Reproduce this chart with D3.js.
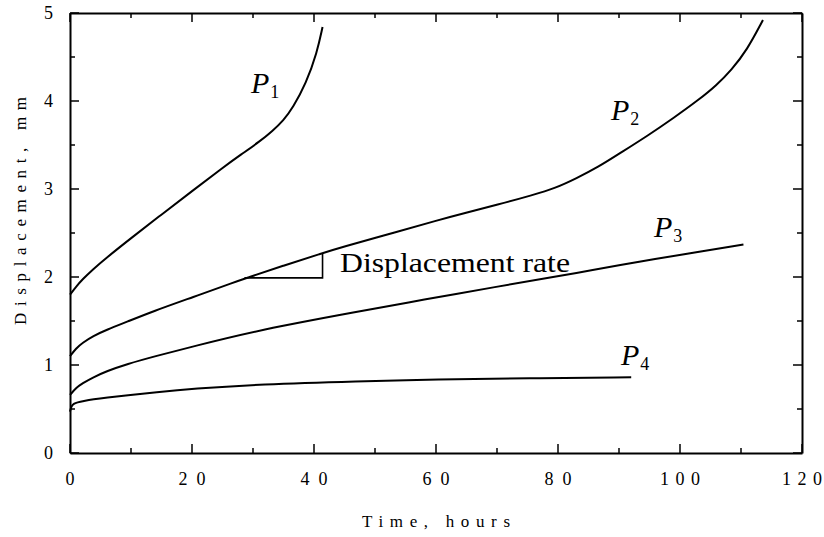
<!DOCTYPE html>
<html><head><meta charset="utf-8">
<script src="https://cdnjs.cloudflare.com/ajax/libs/d3/7.8.5/d3.min.js"></script>
<style>
html,body{margin:0;padding:0;background:#fff;}
svg{display:block;}
svg text{font-family:"Liberation Serif","DejaVu Serif","Times New Roman",Times,serif !important;}
</style></head>
<body>
<script>
// ---- data ----
const p1Time = [0, 1, 2, 3.8, 6, 9.8, 15, 20.1, 25, 28, 31.1, 33.2, 35, 36.5, 38.7, 40.5, 41.4];
const p1Disp = [1.80, 1.89, 1.97, 2.09, 2.22, 2.43, 2.71, 2.98, 3.24, 3.39, 3.54, 3.66, 3.78, 3.92, 4.20, 4.55, 4.84];
const p2Time = [0, 1, 2, 3.8, 6, 9.3, 13.6, 20.1, 27.3, 28.6, 35, 41.4, 44.1, 54, 60, 64.9, 70, 75.8, 79.6, 83, 86.6, 90, 94.8, 99, 103, 106, 108.4, 111, 113.6];
const p2Disp = [1.10, 1.19, 1.25, 1.33, 1.40, 1.49, 1.61, 1.77, 1.95, 1.98, 2.13, 2.27, 2.33, 2.52, 2.64, 2.73, 2.82, 2.93, 3.01, 3.12, 3.25, 3.40, 3.61, 3.81, 4.01, 4.18, 4.35, 4.58, 4.92];
const p3Time = [0, 1, 2, 3.8, 6, 9.3, 14, 20.1, 31.1, 47.4, 57.8, 70, 80, 85.1, 93.7, 100, 110.4];
const p3Disp = [0.66, 0.74, 0.79, 0.86, 0.93, 1.01, 1.10, 1.21, 1.40, 1.61, 1.74, 1.89, 2.01, 2.07, 2.18, 2.25, 2.37];
const p4Time = [0, 0.2, 0.6, 1.2, 2.2, 3.8, 6, 9.3, 14, 20.1, 31.1, 47.4, 60, 75, 92];
const p4Disp = [0.47, 0.53, 0.56, 0.575, 0.59, 0.61, 0.63, 0.655, 0.69, 0.73, 0.78, 0.815, 0.835, 0.85, 0.86];
const seriesNames = ["1", "2", "3", "4"];
const rateTriangle = [[28.6, 1.99], [41.4, 1.99], [41.4, 2.27]];
const xTicks = [0, 20, 40, 60, 80, 100, 120];
const yTicks = [0, 1, 2, 3, 4, 5];
const xTitle = "Time, hours";
const yTitle = "Displacement, mm";
const rateLabel = "Displacement rate";

// ---- layout ----
const FONT = "'Liberation Serif', 'DejaVu Serif', serif";
const W = 824, H = 537;
const svg = d3.select("body").append("svg").attr("width", W).attr("height", H);
const x = d3.scaleLinear().domain([0, 120]).range([70, 802]);
const y = d3.scaleLinear().domain([0, 5]).range([453, 13]);

const line = d3.line().x(d => x(d[0])).y(d => y(d[1])).curve(d3.curveBasis);
const series = [[p1Time, p1Disp], [p2Time, p2Disp], [p3Time, p3Disp], [p4Time, p4Disp]];
series.forEach(([t, v]) => {
  svg.append("path").datum(t.map((ti, i) => [ti, v[i]]))
    .attr("d", line).attr("fill", "none").attr("stroke", "#000").attr("stroke-width", 2)
    .attr("stroke-linejoin", "round");
});

// triangle
svg.append("path").datum(rateTriangle)
  .attr("d", d3.line().x(d => x(d[0])).y(d => y(d[1])))
  .attr("fill", "none").attr("stroke", "#000").attr("stroke-width", 1.6);

// axes (full frame with mirrored ticks)
const minorX = d3.range(0, 121, 10);
const minorY = d3.range(0, 5.01, 0.5);
function frameAxis(axisFn, scale, vals, transform) {
  const g = svg.append("g").attr("transform", transform);
  g.call(axisFn(scale).tickValues(vals).tickSizeInner(0).tickSizeOuter(0).tickFormat(""));
  g.select(".domain").attr("stroke-width", 2);
  g.selectAll(".tick").remove();
  return g;
}
frameAxis(d3.axisBottom, x, minorX, `translate(0,${y(0)})`);
frameAxis(d3.axisTop, x, minorX, `translate(0,${y(5)})`);
frameAxis(d3.axisLeft, y, minorY, `translate(${x(0)},0)`);
frameAxis(d3.axisRight, y, minorY, `translate(${x(120)},0)`);

const tickG = svg.append("g").attr("stroke", "#000").attr("stroke-width", 1.5);
minorX.forEach(v => {
  const len = v % 20 === 0 ? 9 : 5;
  tickG.append("line").attr("x1", x(v)).attr("x2", x(v)).attr("y1", y(0)).attr("y2", y(0) - len);
  tickG.append("line").attr("x1", x(v)).attr("x2", x(v)).attr("y1", y(5)).attr("y2", y(5) + len);
});
minorY.forEach(v => {
  const len = Math.abs(v - Math.round(v)) < 1e-6 ? 9 : 5;
  tickG.append("line").attr("x1", x(0)).attr("x2", x(0) + len).attr("y1", y(v)).attr("y2", y(v));
  tickG.append("line").attr("x1", x(120)).attr("x2", x(120) - len).attr("y1", y(v)).attr("y2", y(v));
});

const textG = svg.append("g").attr("font-family", FONT).attr("fill", "#000");
xTicks.forEach(v => {
  const s = String(v);
  const t = textG.append("text").attr("x", x(v)).attr("y", y(0) + 32).attr("text-anchor", "middle")
    .attr("font-size", 18).text(s);
  if (s.length > 1) t.attr("textLength", s.length === 2 ? 27 : 40).attr("lengthAdjust", "spacing");
});
yTicks.forEach(v => {
  textG.append("text").attr("x", x(0) - 17).attr("y", y(v) + 6).attr("text-anchor", "end")
    .attr("font-size", 18).text(v);
});

// titles
textG.append("text").attr("x", 436).attr("y", 527).attr("text-anchor", "middle")
  .attr("font-size", 17).attr("textLength", 148).attr("lengthAdjust", "spacing").text(xTitle);
textG.append("text").attr("transform", "translate(26,211) rotate(-90)").attr("text-anchor", "middle")
  .attr("font-size", 17).attr("textLength", 228).attr("lengthAdjust", "spacing").text(yTitle);

// series labels
const labelPos = [[251, 93], [611, 120], [654, 237], [621, 365]];
labelPos.forEach(([lx, ly], i) => {
  const t = textG.append("text").attr("x", lx).attr("y", ly).attr("font-size", 30);
  t.append("tspan").attr("font-style", "italic").text("P");
  t.append("tspan").attr("font-size", 18).attr("dx", 1).attr("dy", 5).text(seriesNames[i]);
});

textG.append("text").attr("x", 340).attr("y", 272).attr("font-size", 28)
  .attr("textLength", 230).attr("lengthAdjust", "spacingAndGlyphs").text(rateLabel);
</script>
</body></html>
